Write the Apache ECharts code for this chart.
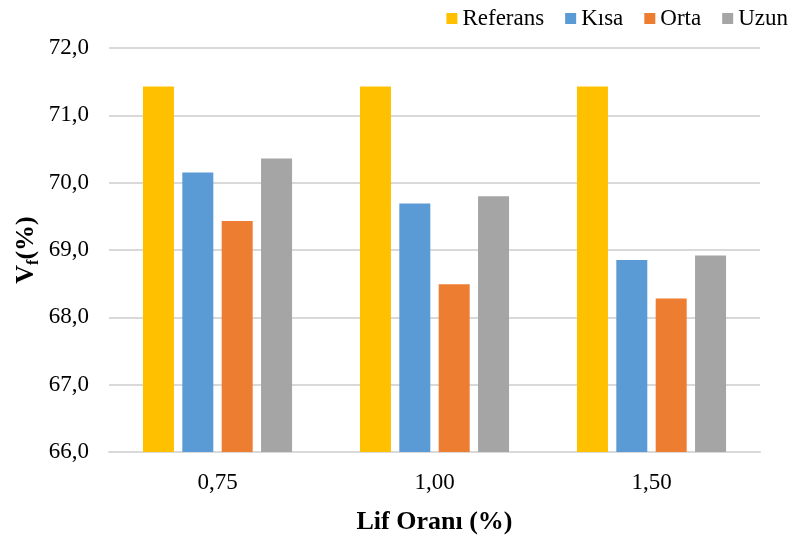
<!DOCTYPE html>
<html>
<head>
<meta charset="utf-8">
<script src="https://cdn.jsdelivr.net/npm/echarts@6/dist/echarts.min.js"></script>
<style>
  html, body { margin: 0; padding: 0; background: #fff; }
  #chart { width: 795px; height: 544px; }
</style>
</head>
<body>
<div id="chart"></div>
<script>
// Fibre ratio categories and the fibre volume fraction per fibre length
const categories = ['0,75', '1,00', '1,50'];
const referans = [71.43, 71.43, 71.43];
const kisa = [70.15, 69.69, 68.85];
const orta = [69.43, 68.49, 68.28];
const uzun = [70.36, 69.80, 68.92];
const seriesNames = ['Referans', 'Kısa', 'Orta', 'Uzun'];
const colors = ['#FFC000', '#5B9BD5', '#ED7D31', '#A5A5A5'];

const FONT = '"Liberation Serif", "Times New Roman", serif';

const chart = echarts.init(document.getElementById('chart'), null, { renderer: 'canvas' });

const values = [referans, kisa, orta, uzun];

chart.setOption({
  animation: false,
  backgroundColor: '#ffffff',
  textStyle: { fontFamily: FONT, color: '#000' },
  color: colors,
  legend: {
    data: seriesNames,
    right: 2,
    top: 2,
    icon: 'rect',
    itemWidth: 11,
    itemHeight: 11,
    itemGap: 21,
    textStyle: { fontFamily: FONT, fontSize: 23, color: '#000' }
  },
  grid: { left: 109, right: 35, top: 48, bottom: 92, outerBoundsMode: 'none', containLabel: false },
  xAxis: {
    type: 'category',
    data: categories,
    axisTick: { show: false },
    axisLine: { lineStyle: { color: '#d9d9d9', width: 2 } },
    axisLabel: { fontFamily: FONT, fontSize: 23, color: '#000', margin: 19 },
    name: 'Lif Oranı (%)',
    nameLocation: 'middle',
    nameGap: 57,
    nameMoveOverlap: false,
    nameTextStyle: { fontFamily: FONT, fontSize: 26, fontWeight: 'bold', color: '#000' }
  },
  yAxis: {
    type: 'value',
    min: 66,
    max: 72,
    interval: 1,
    axisLine: { show: false },
    axisTick: { show: false },
    splitLine: { lineStyle: { color: '#d9d9d9', width: 2 } },
    axisLabel: {
      fontFamily: FONT, fontSize: 23, color: '#000', margin: 20,
      formatter: v => v.toFixed(1).replace('.', ',')
    },
    name: '{v|V}{f|f}{v|(%)}',
    nameLocation: 'middle',
    nameRotate: 90,
    nameGap: 67,
    nameMoveOverlap: false,
    nameTextStyle: {
      rich: {
        v: { fontFamily: FONT, fontSize: 26, fontWeight: 'bold', color: '#000', lineHeight: 32, verticalAlign: 'middle' },
        f: { fontFamily: FONT, fontSize: 16, fontWeight: 'bold', color: '#000', lineHeight: 32, verticalAlign: 'bottom' }
      }
    }
  },
  series: seriesNames.map((name, i) => ({
    name: name,
    type: 'bar',
    data: values[i],
    barWidth: 31,
    barGap: '27%',
    itemStyle: { color: colors[i] }
  }))
});
</script>
</body>
</html>
